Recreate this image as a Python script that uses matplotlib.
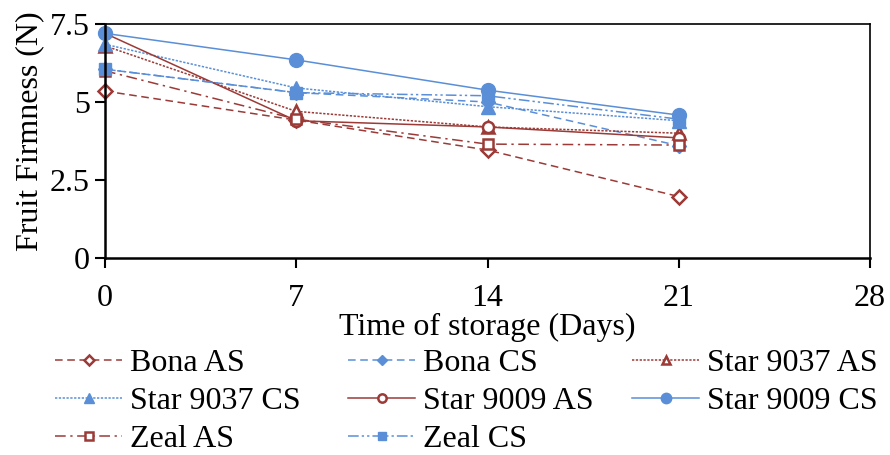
import matplotlib
matplotlib.use("Agg")
import matplotlib.pyplot as plt
from matplotlib.ticker import FixedLocator

plt.rcParams['font.family'] = ['Liberation Serif', 'DejaVu Serif']

days = [0, 7, 14, 21]
series_names = ["Bona AS", "Bona CS", "Star 9037 AS", "Star 9037 CS",
                "Star 9009 AS", "Star 9009 CS", "Zeal AS", "Zeal CS"]
bona_as = [5.35, 4.42, 3.46, 1.97]
bona_cs = [6.05, 5.30, 5.00, 3.60]
star9037_as = [6.80, 4.70, 4.20, 4.00]
star9037_cs = [6.85, 5.45, 4.85, 4.40]
star9009_as = [7.20, 4.40, 4.20, 3.85]
star9009_cs = [7.20, 6.35, 5.38, 4.58]
zeal_as = [6.00, 4.45, 3.65, 3.62]
zeal_cs = [6.05, 5.30, 5.20, 4.45]
x_ticks = [0, 7, 14, 21, 28]
y_ticks = [0, 2.5, 5, 7.5]
y_tick_labels = ["0", "2.5", "5", "7.5"]

RED = '#9B3A36'
BLUE = '#5A8FD8'
FS = 23

values = [bona_as, bona_cs, star9037_as, star9037_cs,
          star9009_as, star9009_cs, zeal_as, zeal_cs]
styles = [
    dict(color=RED, ls=(0, (5, 3)), marker='D', mfc='white', ms=7, mew=1.8),
    dict(color=BLUE, ls=(0, (5, 3)), marker='D', mfc=BLUE, ms=7, mew=1.0),
    dict(color=RED, ls=(0, (1.5, 1)), marker='^', mfc='white', ms=8, mew=1.8),
    dict(color=BLUE, ls=(0, (1.5, 1)), marker='^', mfc=BLUE, ms=10, mew=1.0),
    dict(color=RED, ls='-', marker='o', mfc='white', ms=8, mew=1.8),
    dict(color=BLUE, ls='-', marker='o', mfc=BLUE, ms=10, mew=1.0),
    dict(color=RED, ls=(0, (7, 3, 1.5, 3)), marker='s', mfc='white', ms=7.5, mew=1.8),
    dict(color=BLUE, ls=(0, (7, 2, 1.5, 2, 1.5, 2)), marker='s', mfc=BLUE, ms=8, mew=1.0),
]

fig = plt.figure(figsize=(8.9, 4.55), dpi=100)
ax = fig.add_axes([105/890, 1-258/455, 765/890, 234/455])

handles = []
for name, vals, st in zip(series_names, values, styles):
    h, = ax.plot(days, vals, label=name, lw=1.1, color=st['color'], ls=st['ls'],
                 marker=st['marker'], markerfacecolor=st['mfc'],
                 markeredgecolor=st['color'], markersize=st['ms'],
                 markeredgewidth=st['mew'], clip_on=False)
    handles.append(h)

ax.set_xlim(0, 28)
ax.set_ylim(0, 7.5)
ax.xaxis.set_major_locator(FixedLocator(x_ticks))
ax.set_yticks(y_ticks)
ax.set_yticklabels(y_tick_labels)
ax.tick_params(axis='both', labelsize=FS, direction='out', length=7, width=1.5, color='black')
ax.tick_params(axis='x', pad=12)
ax.tick_params(axis='y', pad=4)
for sp in ['left', 'bottom']:
    ax.spines[sp].set_linewidth(1.8)
for sp in ['top', 'right']:
    ax.spines[sp].set_linewidth(1.2)

ax.set_xlabel("Time of storage (Days)", fontsize=FS, labelpad=0)
ax.set_ylabel("Fruit Firmness (N)", fontsize=FS)
ax.yaxis.set_label_coords(-0.08, 0.54)

# legend laid out row by row in three columns
col_x = [55/890, 348/890, 632/890]
for c in range(3):
    hs = handles[c::3]
    fig.legend(handles=hs, loc='upper left', bbox_to_anchor=(col_x[c], 1-349/455),
               ncol=1, frameon=False, fontsize=FS, handlelength=2.1,
               handletextpad=0.25, labelspacing=0.26, borderaxespad=0,
               borderpad=0, markerscale=0.75)

fig.savefig("out.png", dpi=100)
